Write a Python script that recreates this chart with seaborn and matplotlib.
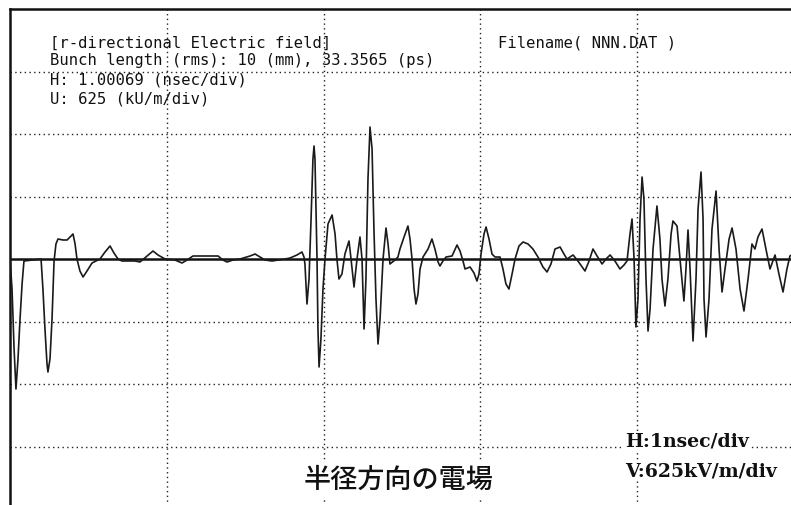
import matplotlib
matplotlib.use("Agg")
import matplotlib.pyplot as plt
import seaborn as sns
import pandas as pd

# ---- data (time in ns, radial electric field in kV/m) ----
time_ns = [
    0.000, 0.013, 0.026, 0.038, 0.051, 0.064, 0.077, 0.089, 0.198, 0.210,
    0.223, 0.236, 0.242, 0.255, 0.268, 0.281, 0.293, 0.306, 0.338, 0.364,
    0.383, 0.402, 0.415, 0.427, 0.446, 0.466, 0.491, 0.523, 0.574, 0.606,
    0.638, 0.663, 0.689, 0.714, 0.797, 0.829, 0.867, 0.912, 0.944, 0.989,
    1.052, 1.097, 1.129, 1.167, 1.327, 1.358, 1.384, 1.422, 1.467, 1.531,
    1.563, 1.594, 1.626, 1.671, 1.754, 1.786, 1.830, 1.862, 1.875, 1.881,
    1.894, 1.907, 1.920, 1.932, 1.939, 1.945, 1.958, 1.964, 1.971, 1.983,
    1.996, 2.009, 2.028, 2.054, 2.073, 2.085, 2.098, 2.117, 2.136, 2.162,
    2.175, 2.194, 2.213, 2.232, 2.245, 2.258, 2.270, 2.283, 2.296, 2.309,
    2.321, 2.334, 2.347, 2.360, 2.379, 2.398, 2.411, 2.423, 2.455, 2.474,
    2.487, 2.513, 2.538, 2.551, 2.564, 2.577, 2.589, 2.602, 2.615, 2.634,
    2.666, 2.691, 2.710, 2.730, 2.742, 2.761, 2.781, 2.819, 2.851, 2.870,
    2.889, 2.902, 2.934, 2.959, 2.978, 2.991, 3.004, 3.023, 3.036, 3.055,
    3.074, 3.093, 3.125, 3.144, 3.163, 3.182, 3.202, 3.221, 3.246, 3.272,
    3.304, 3.335, 3.367, 3.399, 3.425, 3.450, 3.476, 3.508, 3.533, 3.552,
    3.591, 3.622, 3.667, 3.693, 3.718, 3.744, 3.776, 3.801, 3.827, 3.858,
    3.890, 3.916, 3.935, 3.954, 3.967, 3.980, 3.992, 4.005, 4.018, 4.031,
    4.043, 4.056, 4.069, 4.082, 4.101, 4.126, 4.145, 4.158, 4.177, 4.196,
    4.216, 4.228, 4.254, 4.273, 4.298, 4.311, 4.324, 4.337, 4.356, 4.375,
    4.388, 4.407, 4.420, 4.426, 4.439, 4.458, 4.477, 4.503, 4.522, 4.541,
    4.560, 4.586, 4.605, 4.630, 4.656, 4.681, 4.707, 4.732, 4.751, 4.770,
    4.796, 4.821, 4.847, 4.879, 4.904, 4.930, 4.955, 4.974, 4.994,
]
field_kVm = [
    0, -300, -900, -1300, -1000, -600, -250, -20, 0, -300,
    -700, -1050, -1130, -1000, -600, -20, 150, 200, 190, 190,
    220, 250, 150, 0, -120, -180, -120, -40, 0, 70,
    130, 60, 0, -20, -20, -30, 20, 80, 40, 0,
    -10, -40, -10, 30, 30, -10, -30, -10, 0, 30,
    50, 20, -10, -20, 0, 10, 40, 70, 20, -50,
    -450, -200, 400, 1000, 1130, 1000, 0, -700, -1080, -800,
    -300, 0, 350, 440, 250, 0, -200, -150, 50, 180,
    0, -280, 0, 220, 0, -700, -200, 800, 1320, 1100,
    300, -400, -850, -600, 0, 310, 150, -50, -10, 20,
    100, 220, 330, 200, 0, -300, -450, -350, -100, 20,
    100, 200, 100, -30, -70, -20, 20, 30, 140, 80,
    -20, -100, -80, -140, -220, -150, 50, 250, 320, 200,
    50, 20, 20, -100, -250, -300, -150, 0, 130, 170,
    150, 100, 20, -80, -130, -50, 100, 120, 50, 0,
    40, -20, -120, -20, 100, 30, -50, 0, 40, -20,
    -100, -60, -20, 250, 400, 0, -680, -400, 400, 820,
    600, -200, -720, -500, 100, 530, 200, -200, -470, -200,
    250, 380, 330, 0, -420, -100, 290, -100, -820, -200,
    500, 870, 400, -400, -780, -400, 300, 680, 100, -330,
    -100, 200, 310, 100, -300, -520, -200, 150, 100, 220,
    300, 100, -100, 40, -150, -330, -100, 30, 50,
]

h_div_ns = 1.0          # horizontal scale
v_div_kVm = 625         # vertical scale
n_hdiv = 5
n_vdiv_half = 4

header_lines = [
    "[r-directional Electric field]",
    "Bunch length (rms): 10 (mm), 33.3565 (ps)",
    "H: 1.00069 (nsec/div)",
    "U: 625 (kU/m/div)",
]
filename_label = "Filename( NNN.DAT )"
scale_lines = ["H:1nsec/div", "V:625kV/m/div"]
jp_title = "半径方向の電場"

# ---- figure ----
sns.set_theme(style="white")
plt.rcParams["font.family"] = ["DejaVu Sans Mono", "Noto Sans CJK JP"]

W, H = 791, 506
fig = plt.figure(figsize=(W / 100, H / 100), dpi=100)
fig.patch.set_facecolor("white")

# axes box in pixel coordinates (left 10, top 10, 156.8 px/div horiz, 62.5 px/div vert)
left_px, top_px = 10, 10
width_px = 156.8 * n_hdiv
height_px = 62.5 * 2 * n_vdiv_half
ax = fig.add_axes([left_px / W, 1 - (top_px + height_px) / H, width_px / W, height_px / H])
ax.set_facecolor("white")

xmax = n_hdiv * h_div_ns
ymax = n_vdiv_half * v_div_kVm
ax.set_xlim(0, xmax)
ax.set_ylim(-ymax, ymax)

# dotted division grid
for i in range(1, n_hdiv):
    ax.axvline(i * h_div_ns, color="#222222", lw=1.0, ls=(0, (1, 2.4)), zorder=1)
for j in range(-n_vdiv_half + 1, n_vdiv_half):
    if j == 0:
        continue
    ax.axhline(j * v_div_kVm, color="#222222", lw=1.0, ls=(0, (1, 2.4)), zorder=1)

# zero (baseline) line
ax.axhline(0, color="#111111", lw=1.8, zorder=2)

df = pd.DataFrame({"time_ns": time_ns, "field_kVm": field_kVm})
sns.lineplot(data=df, x="time_ns", y="field_kVm", ax=ax, sort=False,
             estimator=None, color="#1a1a1a", lw=1.2, zorder=3)

ax.set_xlabel("")
ax.set_ylabel("")
ax.set_xticks([])
ax.set_yticks([])
for side in ["left", "top"]:
    ax.spines[side].set_visible(True)
    ax.spines[side].set_color("#111111")
    ax.spines[side].set_linewidth(1.8)
for side in ["right", "bottom"]:
    ax.spines[side].set_visible(False)


def ftext(x_px, y_px, s, **kw):
    return fig.text(x_px / W, 1 - y_px / H, s, va="center", ha="left", **kw)


mono = ["DejaVu Sans Mono"]
y_lines = [43, 61, 80, 99]
for s, y in zip(header_lines, y_lines):
    ftext(50, y, s, family=mono, fontsize=11.2, color="#111111")
ftext(498, 43, filename_label, family=mono, fontsize=11.2, color="#111111")

bbox = dict(facecolor="white", edgecolor="none", pad=1.0)
ftext(625, 442, scale_lines[0], family=["DejaVu Serif"], fontweight="bold",
      fontsize=13.6, color="#111111", bbox=bbox)
ftext(625, 472, scale_lines[1], family=["DejaVu Serif"], fontweight="bold",
      fontsize=13.6, color="#111111", bbox=bbox)
ftext(304, 480, jp_title, family=["Noto Sans CJK JP"], fontsize=19.5,
      fontweight="medium", color="#111111",
      bbox=dict(facecolor="white", edgecolor="none", pad=3))

fig.savefig("out.png", dpi=100)
